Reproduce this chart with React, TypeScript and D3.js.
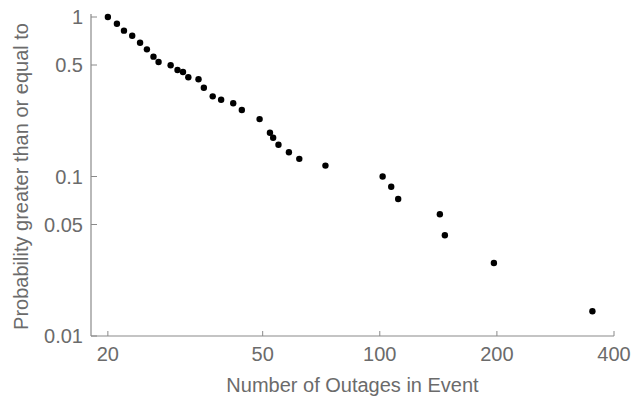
import React, { useRef, useEffect } from "react";
import * as d3 from "d3";

// Event sizes (number of outages) and complementary cumulative probability
const outages = [
  20.0, 21.1, 22.0, 23.1, 24.2, 25.2, 26.2, 27.0, 29.0, 30.2, 31.2, 32.2, 34.2, 35.3, 37.2, 39.1,
  42.0, 44.2, 49.1, 52.2, 53.2, 54.9, 58.4, 62.1, 72.5, 101.7, 107, 111.5, 142.7, 147, 196.5, 352,
];
const probability = [
  1.0, 0.908, 0.821, 0.763, 0.69, 0.627, 0.564, 0.522, 0.498, 0.465, 0.452, 0.419, 0.407, 0.36,
  0.318, 0.303, 0.288, 0.261, 0.229, 0.188, 0.175, 0.158, 0.142, 0.129, 0.117, 0.1, 0.0863, 0.0723,
  0.058, 0.0428, 0.0287, 0.0143,
];
const xTicks = [20, 50, 100, 200, 400];
const yTicks = [0.01, 0.05, 0.1, 0.5, 1];

const W = 633;
const H = 403;

const App = () => {
  const svgRef = useRef<SVGSVGElement>(null);

  useEffect(() => {
    const svg = d3.select(svgRef.current);
    svg.selectAll("*").remove();

    const left = 91, right = 614, top = 17, bottom = 336;
    const axisColor = "#8a8a8a";
    const textColor = "#6b6b6b";
    const font = "'Liberation Sans', Arial, sans-serif";

    const x = d3.scaleLog().domain([18.1, 400]).range([left, right]);
    const y = d3.scaleLog().domain([0.01, 1]).range([bottom, top]);

    // spines
    svg.append("line")
      .attr("x1", left).attr("x2", right)
      .attr("y1", bottom).attr("y2", bottom)
      .attr("stroke", axisColor).attr("stroke-width", 1.2);
    svg.append("line")
      .attr("x1", left).attr("x2", left)
      .attr("y1", top - 3).attr("y2", bottom)
      .attr("stroke", axisColor).attr("stroke-width", 1.2);

    // x ticks (pointing inward)
    const xt = svg.append("g");
    xTicks.forEach(t => {
      xt.append("line")
        .attr("x1", x(t)).attr("x2", x(t))
        .attr("y1", bottom).attr("y2", bottom - 5)
        .attr("stroke", axisColor);
      xt.append("text")
        .attr("x", x(t)).attr("y", bottom + 25)
        .attr("text-anchor", "middle")
        .attr("font-family", font).attr("font-size", 20)
        .attr("fill", textColor)
        .text(String(t));
    });

    // y ticks
    const yt = svg.append("g");
    yTicks.forEach(t => {
      yt.append("line")
        .attr("x1", left).attr("x2", left + 6)
        .attr("y1", y(t)).attr("y2", y(t))
        .attr("stroke", axisColor);
      yt.append("text")
        .attr("x", left - 8).attr("y", y(t))
        .attr("dy", "0.36em")
        .attr("text-anchor", "end")
        .attr("font-family", font).attr("font-size", 20)
        .attr("fill", textColor)
        .text(String(t));
    });

    // axis titles
    svg.append("text")
      .attr("x", (left + right) / 2).attr("y", 392)
      .attr("text-anchor", "middle")
      .attr("font-family", font).attr("font-size", 20)
      .attr("fill", textColor)
      .text("Number of Outages in Event");

    svg.append("text")
      .attr("transform", `translate(28, ${(top + bottom) / 2}) rotate(-90)`)
      .attr("text-anchor", "middle")
      .attr("font-family", font).attr("font-size", 20)
      .attr("fill", textColor)
      .text("Probability greater than or equal to");

    // points
    svg.append("g")
      .selectAll("circle")
      .data(outages.map((o, i) => ({ o, p: probability[i] })))
      .join("circle")
      .attr("cx", d => x(d.o))
      .attr("cy", d => y(d.p))
      .attr("r", 3.2)
      .attr("fill", "#000");
  }, []);

  return (
    <svg
      ref={svgRef}
      width={W}
      height={H}
      style={{ position: "absolute", left: 0, top: 0, background: "#fff" }}
    ></svg>
  );
};

export default App;
